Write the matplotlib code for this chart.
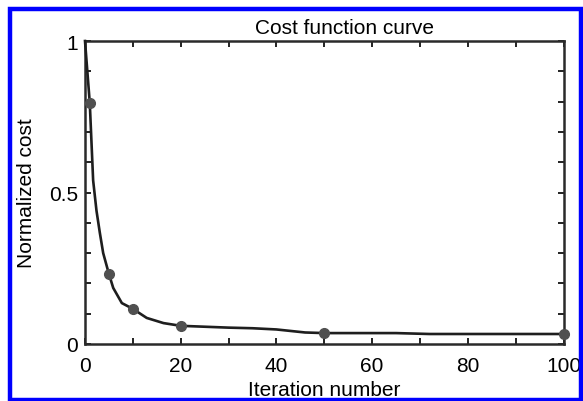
import matplotlib
matplotlib.use("Agg")
import matplotlib.pyplot as plt
from matplotlib.patches import Rectangle
from matplotlib.ticker import MultipleLocator

plt.rcParams['font.family'] = ['Liberation Sans', 'DejaVu Sans']

# Cost curve traced over the iterations
curve_iter = [0, 1, 1.7, 2.4, 3.1, 3.8, 5, 5.9, 7.7, 10, 12.9, 16.4, 20,
              25, 30, 35, 40, 43, 46, 50, 60, 65, 72, 100]
curve_cost = [1.0, 0.795, 0.54, 0.44, 0.367, 0.30, 0.231, 0.185, 0.135, 0.116,
              0.086, 0.069, 0.060, 0.057, 0.054, 0.052, 0.048, 0.043, 0.038,
              0.036, 0.036, 0.036, 0.033, 0.033]

# Sampled iterations marked with dots
mark_iter = [1, 5, 10, 20, 50, 100]
mark_cost = [0.795, 0.231, 0.116, 0.060, 0.036, 0.033]

fig = plt.figure(figsize=(5.83, 4.02), dpi=100)
ax = fig.add_axes([0.1458, 0.1418, 0.8208, 0.7537])

ax.plot(curve_iter, curve_cost, color='#1e1e1e', linewidth=1.9, clip_on=False, zorder=3)
ax.plot(mark_iter, mark_cost, linestyle='none', marker='o', markersize=7,
        color='#505050', clip_on=False, zorder=4)

ax.set_xlim(0, 100)
ax.set_ylim(0, 1)
ax.xaxis.set_major_locator(MultipleLocator(20))
ax.xaxis.set_minor_locator(MultipleLocator(10))
ax.yaxis.set_minor_locator(MultipleLocator(0.1))
ax.set_yticks([0, 0.5, 1])
ax.set_yticklabels(['0', '0.5', '1'])

ax.tick_params(which='both', direction='in', top=True, right=True,
               length=4, width=1.4, color='#222222', labelsize=15)
ax.tick_params(axis='x', pad=9)
ax.tick_params(axis='y', pad=5)
for sp in ax.spines.values():
    sp.set_linewidth(1.8)
    sp.set_color('#2a2a2a')

ax.set_xlabel('Iteration number', fontsize=15, labelpad=3)
ax.set_ylabel('Normalized cost', fontsize=15, labelpad=9)
ax.set_title('Cost function curve', fontsize=15, x=0.543, pad=6)

# blue frame around the figure
fig.patches.append(Rectangle((0.0163, 0.0037), 0.9806, 0.9702, transform=fig.transFigure,
                             fill=False, edgecolor='#0000ff', linewidth=3.2))

fig.savefig('out.png', dpi=100)
